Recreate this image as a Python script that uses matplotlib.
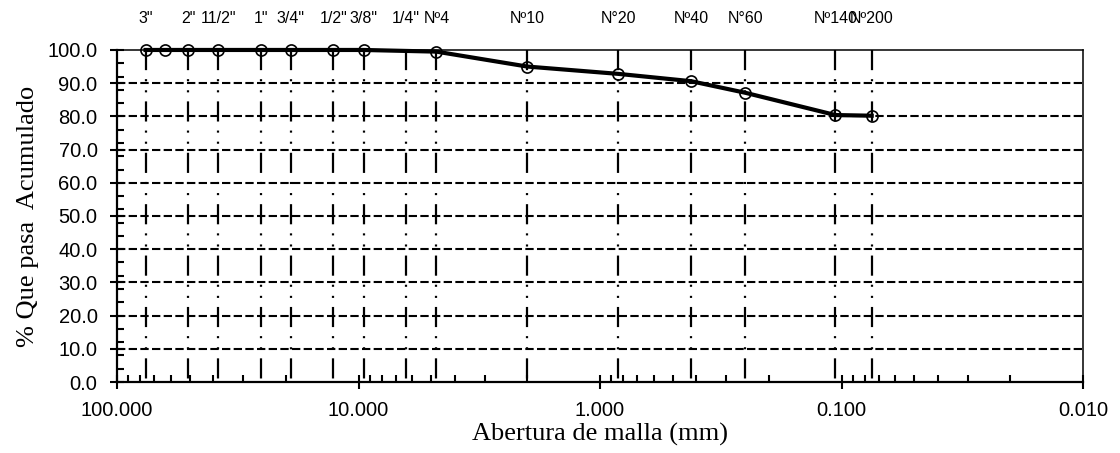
import numpy as np
import matplotlib.pyplot as plt
from matplotlib.ticker import MultipleLocator, FormatStrFormatter, LogLocator, NullFormatter
from matplotlib.transforms import blended_transform_factory

plt.rcParams['lines.scale_dashes'] = False

# sieve openings (mm) and cumulative % passing
abertura = [76.2, 63.5, 50.8, 38.1, 25.4, 19.05, 12.7, 9.525, 4.76, 2.0, 0.84, 0.42, 0.25, 0.106, 0.075]
pasa = [100.0, 100.0, 100.0, 100.0, 100.0, 100.0, 100.0, 100.0, 99.5, 95.0, 92.8, 90.6, 87.1, 80.4, 80.2]

# sieves marked with vertical lines and labels
tamiz_mm = [76.2, 50.8, 38.1, 25.4, 19.05, 12.7, 9.525, 6.35, 4.76, 2.0, 0.84, 0.42, 0.25, 0.106, 0.075]
tamiz_lbl = ['3"', '2"', '11/2"', '1"', '3/4"', '1/2"', '3/8"', '1/4"', 'Nº4', 'Nº10',
             'N°20', 'Nº40', 'N°60', 'Nº140', 'Nº200']

fig = plt.figure(figsize=(11.2, 4.53), dpi=100)
ax = fig.add_axes([0.1045, 0.1567, 0.8625, 0.733])

ax.set_xscale('log')
ax.set_xlim(100, 0.01)
ax.set_ylim(0, 100)

# horizontal dashed grid
for yv in range(10, 100, 10):
    ax.axhline(yv, color='black', lw=1.5, ls=(0, (6.0, 2.4)), zorder=1)

# sieve lines, pattern starting from the top
for xv in tamiz_mm:
    ax.plot([xv, xv], [100, 0], color='black', lw=1.6,
            ls=(0, (14.5, 6.5, 1.5, 6.5, 1.5, 6.5)), zorder=1)

ax.plot(abertura, pasa, color='black', lw=3.0, marker='o', ms=8,
        mfc='none', mec='black', mew=1.2, zorder=3, clip_on=False)

tr = blended_transform_factory(ax.transData, ax.transAxes)
for xv, lb in zip(tamiz_mm, tamiz_lbl):
    ax.text(xv, 1.095, lb, transform=tr, ha='center', va='center',
            fontsize=11.5, family='Liberation Sans')

ax.yaxis.set_major_locator(MultipleLocator(10))
ax.yaxis.set_minor_locator(MultipleLocator(4))
ax.yaxis.set_major_formatter(FormatStrFormatter('%.1f'))
ax.xaxis.set_major_locator(LogLocator(base=10))
ax.xaxis.set_minor_locator(LogLocator(base=10, subs=np.arange(2, 10)))
ax.xaxis.set_minor_formatter(NullFormatter())
ax.xaxis.set_major_formatter(FormatStrFormatter('%.3f'))

ax.tick_params(which='major', direction='inout', length=10, width=1.5, labelsize=14.5)
ax.tick_params(which='minor', direction='in', length=5, width=1.5)
ax.tick_params(axis='y', which='major', pad=9)
ax.tick_params(axis='x', which='major', pad=9)
for lab in ax.get_xticklabels() + ax.get_yticklabels():
    lab.set_family('Liberation Sans')

for s in ['left', 'bottom']:
    ax.spines[s].set_linewidth(1.6)
for s in ['top', 'right']:
    ax.spines[s].set_linewidth(1.1)

ax.set_xlabel('Abertura de malla (mm)', family='Liberation Serif', fontsize=19, labelpad=2)
ax.set_ylabel('% Que pasa  Acumulado', family='Liberation Serif', fontsize=19, labelpad=6)

fig.savefig('out.png', dpi=100)
